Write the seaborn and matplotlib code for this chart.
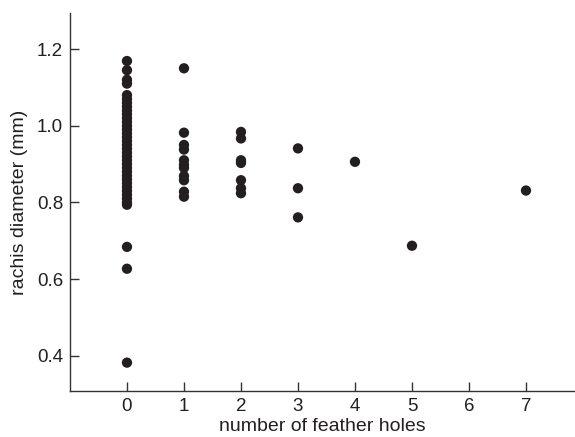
import matplotlib
matplotlib.use("Agg")
import matplotlib.pyplot as plt
import pandas as pd
import numpy as np
import seaborn as sns

# number of feather holes per feather and rachis diameter (mm)
holes_0 = [1.169, 1.145, 1.12, 1.11, 1.08, 1.07, 1.06, 1.05, 1.04, 1.03, 1.02, 1.01,
           1.00, 0.99, 0.98, 0.97, 0.96, 0.95, 0.94, 0.93, 0.92, 0.91, 0.90, 0.89,
           0.88, 0.87, 0.86, 0.85, 0.84, 0.83, 0.82, 0.81, 0.80, 0.794,
           0.684, 0.627, 0.382]
holes_1 = [1.150, 0.982, 0.950, 0.938, 0.910, 0.898, 0.890, 0.869, 0.858, 0.828, 0.815]
holes_2 = [0.984, 0.967, 0.910, 0.903, 0.858, 0.837, 0.824]
holes_3 = [0.941, 0.837, 0.761]
holes_4 = [0.906]
holes_5 = [0.687]
holes_7 = [0.831]

groups = {0: holes_0, 1: holes_1, 2: holes_2, 3: holes_3, 4: holes_4, 5: holes_5, 7: holes_7}
rows = []
for k, vals in groups.items():
    for v in vals:
        rows.append((k, v))
df = pd.DataFrame(rows, columns=["holes", "diameter"])

sns.set_style("ticks")
plt.rcParams["font.family"] = ["Liberation Sans", "DejaVu Sans"]

fig = plt.figure(figsize=(5.75, 4.37), dpi=100)
ax = fig.add_axes([0.1217, 0.1053, 0.8783, 0.8647])

sns.scatterplot(data=df, x="holes", y="diameter", color="#231f20", s=55,
                edgecolor="none", ax=ax)

ax.set_xlim(-1, 7.86)
ax.set_ylim(0.308, 1.294)
ax.set_xticks(range(0, 8))
ax.set_yticks([0.4, 0.6, 0.8, 1.0, 1.2])
ax.set_yticklabels(["0.4", "0.6", "0.8", "1.0", "1.2"])
ax.tick_params(direction="in", length=6.5, width=1, color="#333333",
               labelsize=13.5, labelcolor="#231f20", pad=5)
for side in ["top", "right"]:
    ax.spines[side].set_visible(False)
for side in ["left", "bottom"]:
    ax.spines[side].set_color("#333333")
    ax.spines[side].set_linewidth(1)

ax.set_xlabel("number of feather holes", fontsize=14, color="#231f20", labelpad=2)
ax.set_ylabel("rachis diameter (mm)", fontsize=14, color="#231f20", labelpad=6)

fig.savefig("out.png", dpi=100)
